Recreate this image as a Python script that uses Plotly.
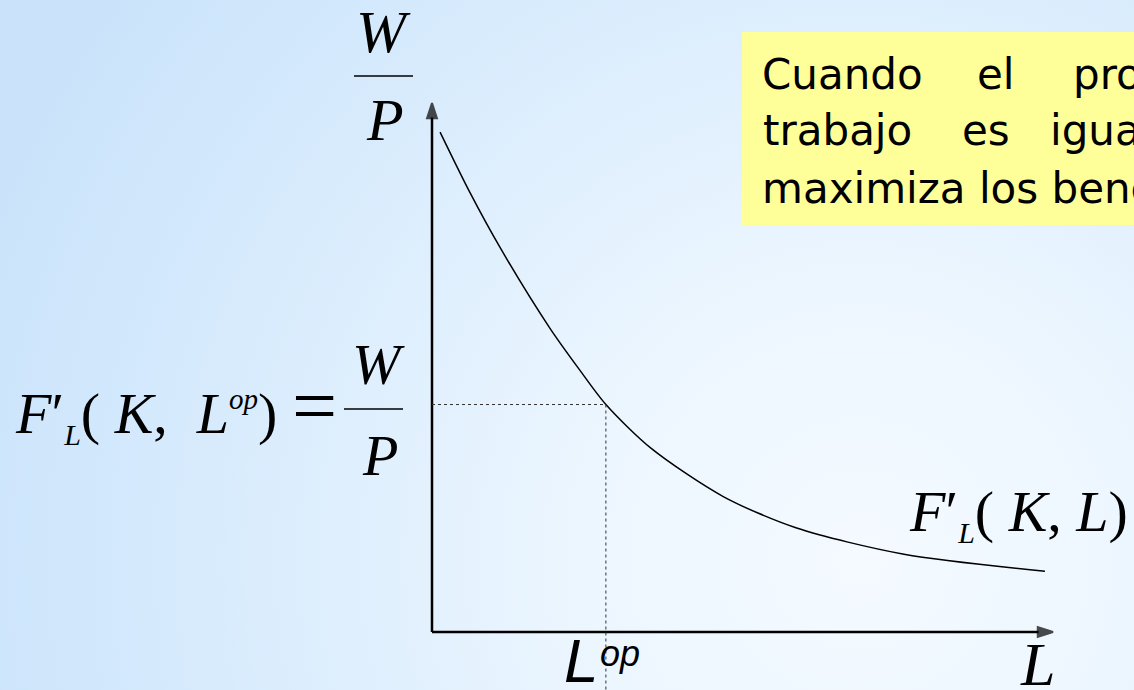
import base64
import plotly.graph_objects as go

# ---------------- data ----------------
labor = [0.13, 0.61, 1.1, 1.9, 2.38, 2.8, 3.53, 4.69, 5.86, 7.6, 9.87]
mpl = [9.45, 8.31, 7.26, 5.74, 4.95, 4.3, 3.47, 2.56, 1.97, 1.47, 1.15]
l_op = 2.8
real_wage = 4.3
axis_x_max = 10
axis_y_max = 10

box_lines = [
    ["Cuando", "el", "producto"],
    ["trabajo", "es", "igual"],
    ["maximiza los beneficios"],
]

# ---------------- geometry ----------------
W, H = 1134, 690
ORIGIN = (432, 632)
PX_X = (1053 - 432) / axis_x_max
PX_Y = (632 - 103) / axis_y_max
x_range = [-ORIGIN[0] / PX_X, (W - ORIGIN[0]) / PX_X]
y_range = [-(H - ORIGIN[1]) / PX_Y, ORIGIN[1] / PX_Y]

SERIF = "Liberation Serif, Times New Roman, serif"
SANS = "Liberation Sans, Arial, sans-serif"
BOXF = "DejaVu Sans, Verdana, sans-serif"

fig = go.Figure()

# axes drawn as lines ending in arrow markers
for ax_x, ax_y in [([0, axis_x_max], [0, 0]), ([0, 0], [0, axis_y_max])]:
    fig.add_trace(go.Scatter(
        x=ax_x, y=ax_y, mode="lines+markers",
        line=dict(color="black", width=2.5),
        marker=dict(symbol="arrow", size=[0, 16], angleref="previous",
                    color="black", line=dict(color="black", width=2)),
        hoverinfo="skip", showlegend=False))

# curve
fig.add_trace(go.Scatter(x=labor, y=mpl, mode="lines",
                         line=dict(color="black", width=1.5, shape="spline", smoothing=0.8),
                         hoverinfo="skip", showlegend=False))
# dotted guides
fig.add_trace(go.Scatter(x=[0, l_op], y=[real_wage, real_wage], mode="lines",
                         line=dict(color="#333333", width=1, dash="dot"),
                         hoverinfo="skip", showlegend=False))
fig.add_trace(go.Scatter(x=[l_op, l_op], y=[real_wage, y_range[0]], mode="lines",
                         line=dict(color="#333333", width=1, dash="dot"),
                         hoverinfo="skip", showlegend=False))

annotations = []


def txt(t, px, py, size, family=SERIF, italic=True, anchor="center"):
    s = f"<i>{t}</i>" if italic else t
    annotations.append(dict(x=px / W, y=1 - py / H, xref="paper", yref="paper",
                            text=s, showarrow=False, xanchor=anchor, yanchor="middle",
                            font=dict(family=family, size=size, color="black")))


shapes = []


def bar(x0, x1, py):
    shapes.append(dict(type="line", xref="paper", yref="paper",
                       x0=x0 / W, x1=x1 / W, y0=1 - py / H, y1=1 - py / H,
                       line=dict(color="black", width=1.5)))


SUB_L = "<sub><span style='font-size:30px;font-style:italic'>L</span></sub>"
SUP_OP = "<sup><span style='font-size:29px;font-style:italic'>op</span></sup>"
EQ = "<span style='font-size:80px'>=</span>"

# top fraction W/P
txt("W", 383, 32, 60)
bar(354, 413, 76)
txt("P", 385, 120, 60)

# left equation F'_L(K, L^op) = W/P
left_eq = f"<i>F</i>′{SUB_L}( <i>K</i>,&nbsp; <i>L</i>{SUP_OP}) {EQ}"
txt(left_eq, 339, 406, 58, italic=False, anchor="right")
txt("W", 378, 364, 58)
bar(344, 403, 409)
txt("P", 380, 455, 58)

# right label F'_L(K, L)
right_lab = f"<i>F</i>′{SUB_L}( <i>K</i>, <i>L</i>)"
txt(right_lab, 907, 514, 58, italic=False, anchor="left")

# axis labels
txt("L", 1037, 664, 62)
txt("L", 581, 660, 62, family=SANS)
txt("op", 620, 653, 36, family=SANS)

# yellow note box
shapes.append(dict(type="rect", xref="paper", yref="paper",
                   x0=742 / W, x1=1.01, y0=1 - 225 / H, y1=1 - 32 / H,
                   fillcolor="#FFFF99", line=dict(width=0), layer="below"))
word_x = [[762, 977, 1073], [763, 962, 1050], [762]]
line_y = [74, 131, 189]
for words, xs, py in zip(box_lines, word_x, line_y):
    for w_, px in zip(words, xs):
        txt(w_, px - 2, py, 42, family=BOXF, italic=False, anchor="left")

# background gradient
svg = ('<svg xmlns="http://www.w3.org/2000/svg" width="1134" height="690">'
       '<defs><radialGradient id="g" cx="860" cy="560" r="950" gradientUnits="userSpaceOnUse">'
       '<stop offset="0" stop-color="#f4faff"/><stop offset="0.25" stop-color="#eef7ff"/>'
       '<stop offset="0.8" stop-color="#d2e8fc"/><stop offset="1" stop-color="#cae3fa"/>'
       '</radialGradient></defs>'
       '<rect width="1134" height="690" fill="url(#g)"/></svg>')
src = "data:image/svg+xml;base64," + base64.b64encode(svg.encode()).decode()

fig.update_layout(
    width=W, height=H, margin=dict(l=0, r=0, t=0, b=0),
    paper_bgcolor="#e4f1fd", plot_bgcolor="rgba(0,0,0,0)",
    xaxis=dict(range=x_range, visible=False, fixedrange=True),
    yaxis=dict(range=y_range, visible=False, fixedrange=True),
    annotations=annotations, shapes=shapes,
    images=[dict(source=src, xref="paper", yref="paper", x=0, y=1, sizex=1, sizey=1,
                 sizing="stretch", xanchor="left", yanchor="top", layer="below")],
    showlegend=False,
)

fig.write_html("out.html", config={"displayModeBar": False},
               post_script="document.body.style.margin='0';document.body.style.overflow='hidden';")
